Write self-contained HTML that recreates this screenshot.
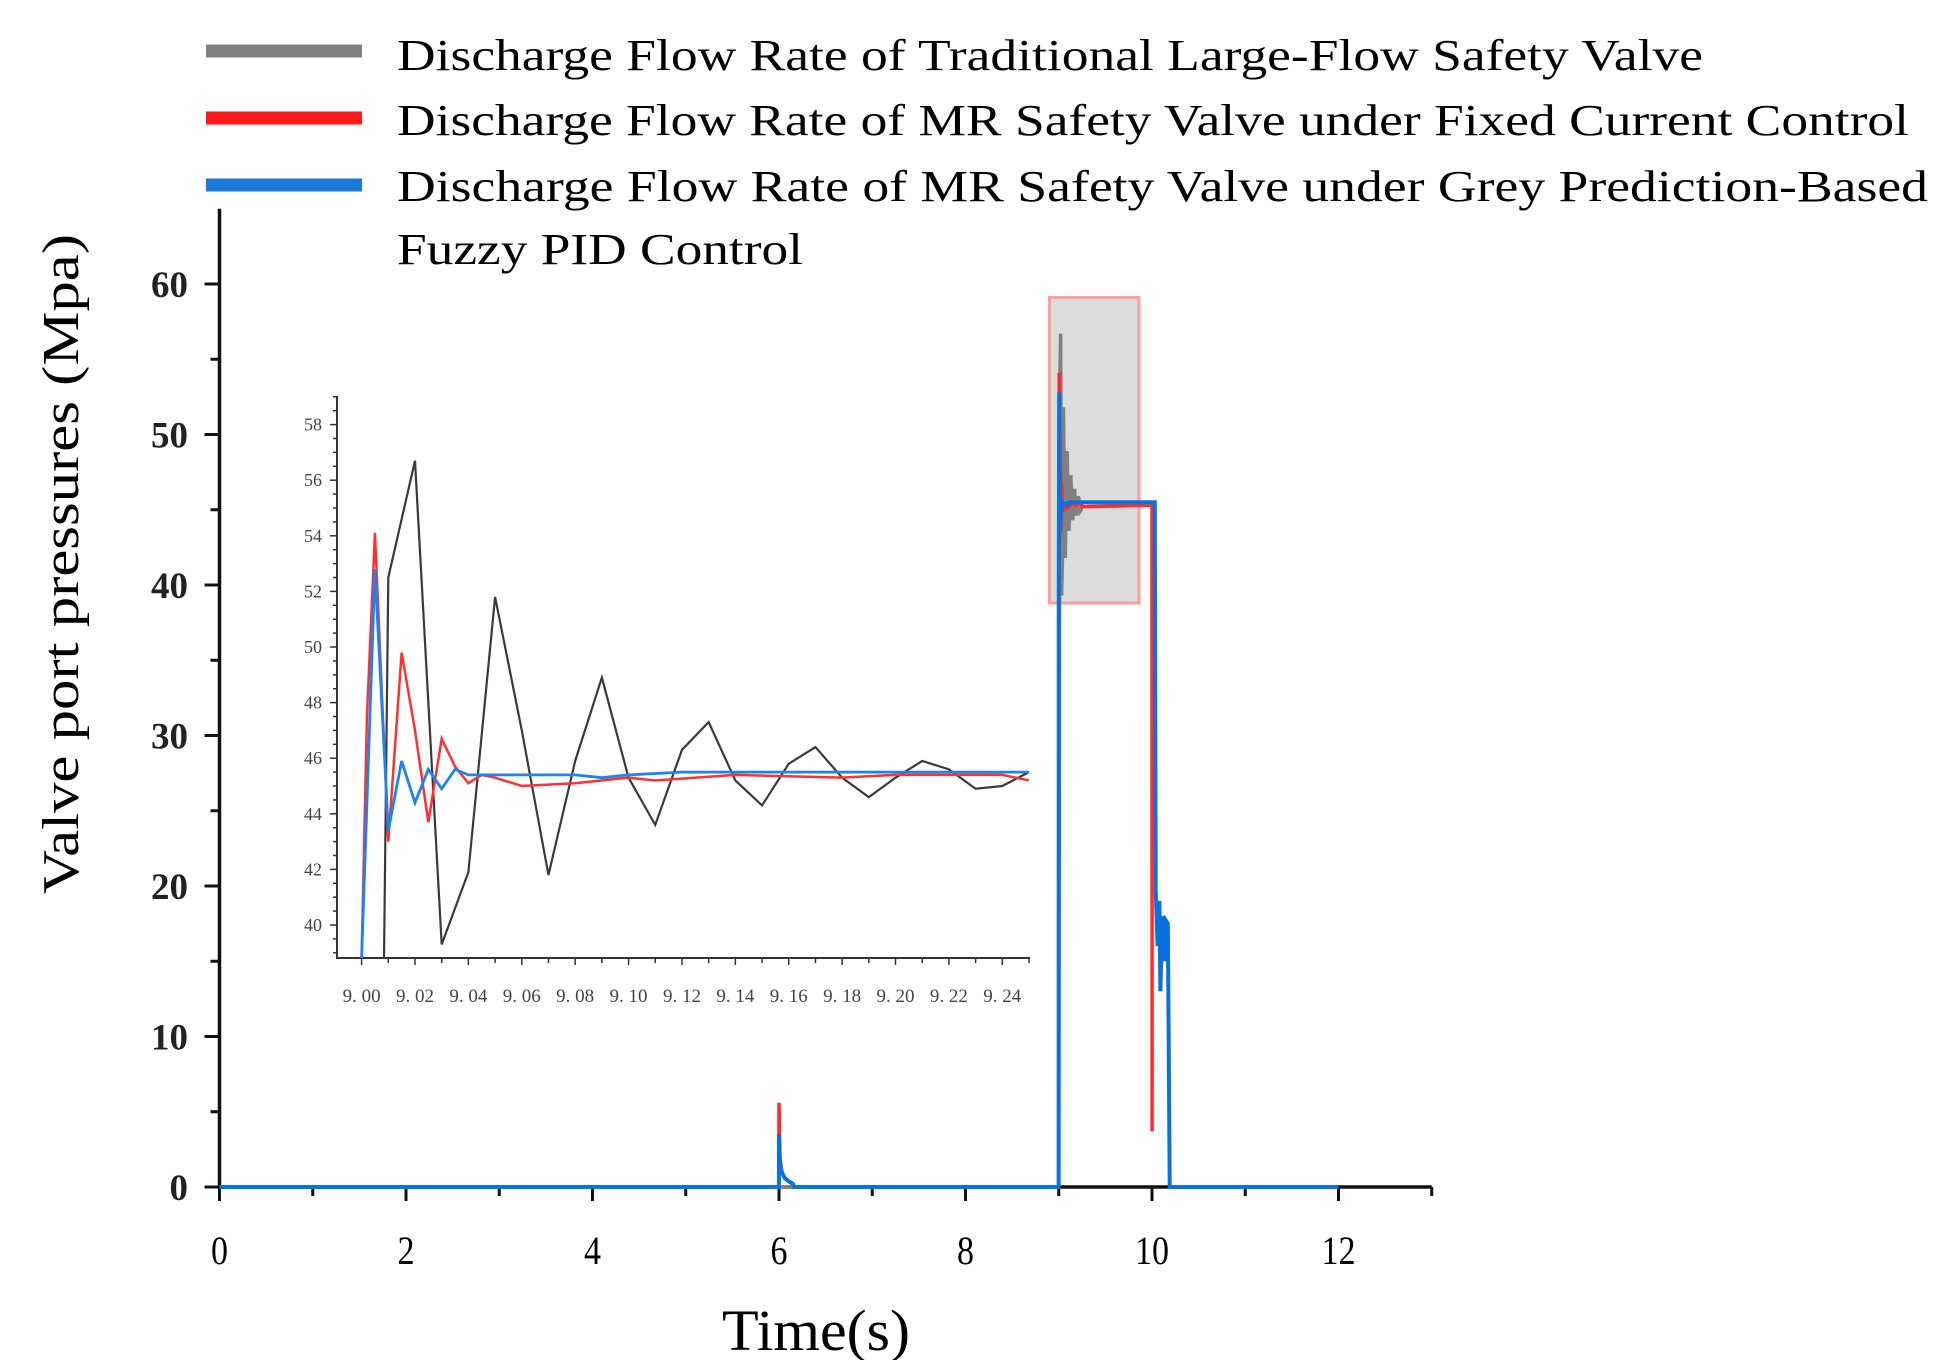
<!DOCTYPE html>
<html><head><meta charset="utf-8"><style>
html,body{margin:0;padding:0;background:#fff;}
svg{display:block;font-family:"Liberation Serif",serif;}
</style></head><body>
<svg id="chart" width="1949" height="1360" viewBox="0 0 1949 1360" xmlns="http://www.w3.org/2000/svg">
<defs><clipPath id="insetClip"><rect x="337" y="380" width="694" height="578"/></clipPath></defs>
<g id="legend">
  <g>
    <line x1="206" y1="51" x2="362" y2="51" stroke="#808080" stroke-width="13"/>
    <text x="397" y="70" font-size="44" textLength="1306" lengthAdjust="spacingAndGlyphs">Discharge Flow Rate of Traditional Large-Flow Safety Valve</text>
  </g>
  <g>
    <line x1="206" y1="118" x2="362" y2="118" stroke="#ff1a1a" stroke-width="13"/>
    <text x="397" y="135" font-size="44" textLength="1512" lengthAdjust="spacingAndGlyphs">Discharge Flow Rate of MR Safety Valve under Fixed Current Control</text>
  </g>
  <g>
    <line x1="206" y1="185" x2="362" y2="185" stroke="#1a78d8" stroke-width="13"/>
    <text x="397" y="201" font-size="44" textLength="1531" lengthAdjust="spacingAndGlyphs">Discharge Flow Rate of MR Safety Valve under Grey Prediction-Based</text>
    <text x="397" y="264" font-size="44" textLength="406" lengthAdjust="spacingAndGlyphs">Fuzzy PID Control</text>
  </g>
</g>
<text transform="translate(78,564) rotate(-90)" text-anchor="middle" font-size="52" textLength="660" lengthAdjust="spacingAndGlyphs">Valve port pressures (Mpa)</text>
<text x="816" y="1350" text-anchor="middle" font-size="58" textLength="188" lengthAdjust="spacingAndGlyphs">Time(s)</text>
<g id="main"></g>
<g id="inset"></g>
</svg>
<script>
// ---- main chart data ----
const xTicks = [0,2,4,6,8,10,12];
const yTicks = [0,10,20,30,40,50,60];
const insetXTicks = ["9. 00","9. 02","9. 04","9. 06","9. 08","9. 10","9. 12","9. 14","9. 16","9. 18","9. 20","9. 22","9. 24"];
const insetXTickValues = [9.00,9.02,9.04,9.06,9.08,9.10,9.12,9.14,9.16,9.18,9.20,9.22,9.24];
const insetYTicks = [40,42,44,46,48,50,52,54,56,58];
// inset (zoomed) series
const blackT = [9.0084,9.01,9.02,9.03,9.04,9.05,9.06,9.07,9.08,9.09,9.10,9.11,9.12,9.13,9.14,9.15,9.16,9.17,9.18,9.19,9.20,9.21,9.22,9.23,9.24,9.25];
const blackV = [38.8,52.5,56.7,39.3,41.9,51.8,47.0,41.8,45.9,48.9,45.3,43.6,46.3,47.3,45.2,44.3,45.8,46.4,45.3,44.6,45.3,45.9,45.6,44.9,45.0,45.5];
const redT = [9.0,9.002,9.005,9.01,9.015,9.02,9.025,9.03,9.035,9.04,9.045,9.05,9.06,9.08,9.10,9.11,9.14,9.18,9.20,9.24,9.25];
const redV = [38.8,47.5,54.1,43.0,49.8,47.0,43.7,46.7,45.7,45.1,45.4,45.3,45.0,45.1,45.3,45.2,45.4,45.3,45.4,45.4,45.2];
const blueT = [9.0,9.005,9.01,9.015,9.02,9.025,9.03,9.035,9.04,9.08,9.09,9.10,9.12,9.25];
const blueV = [38.8,52.8,43.4,45.9,44.4,45.6,44.9,45.6,45.4,45.4,45.3,45.4,45.5,45.5];
// main-scale extra segments
const grayPreT = [0,9.0], grayPreV = [0,0];
const grayPostT = [9.9], grayPostV = [45.4];
const redPreT = [0,5.999,6.0,6.01,6.03,6.06,6.1,6.15,6.16,8.999];
const redPreV = [0,0,5.6,2.0,1.0,0.6,0.4,0.2,0,0];
const redPostT = [10.0,10.001];
const redPostV = [45.3,3.7];
const bluePreT = [0,5.999,6.0,6.01,6.03,6.06,6.1,6.15,6.16,8.999];
const bluePreV = [0,0,3.5,1.5,1.0,0.6,0.4,0.2,0,0];
const bluePostT = [10.03,10.04,10.06,10.08,10.09,10.11,10.13,10.15,10.17,10.19,12.0];
const bluePostV = [45.5,19.7,16.0,19.0,13.0,18.0,15.0,17.7,17.5,0,0];

const NS="http://www.w3.org/2000/svg";
function mk(tag, parent, attrs){const e=document.createElementNS(NS,tag);for(const k in attrs)e.setAttribute(k,attrs[k]);parent.appendChild(e);return e;}
// main axes
const mx = t => 219.5 + t*93.25;
const my = v => 1187 - v*15.05;
const main = document.getElementById('main');
const xAxis = mk('line', main, {x1:mx(0),y1:my(0),x2:mx(13),y2:my(0),stroke:'#111','stroke-width':3.5});


const yAxis = mk('line', main, {x1:mx(0),y1:my(0)+2,x2:mx(0),y2:my(65),stroke:'#111','stroke-width':3.5});


for(let i=0;i<=13;i++){const major=i%2===0;mk('line',main,{x1:mx(i),y1:my(0),x2:mx(i),y2:my(0)+(major?14:9),stroke:'#111','stroke-width':3});}
xTicks.forEach(t=>{const tx=mk('text',main,{x:mx(t),y:1264,'text-anchor':'middle','font-size':40,transform:'translate('+mx(t)+',0) scale(0.85,1) translate('+(-mx(t))+',0)'});tx.textContent=t;

});
for(let v=0;v<=60;v+=5){const major=v%10===0;mk('line',main,{x1:mx(0)-(major?15:9),y1:my(v),x2:mx(0),y2:my(v),stroke:'#111','stroke-width':3});}
yTicks.forEach(v=>{const tx=mk('text',main,{x:188,y:my(v)+13,'text-anchor':'end','font-size':37,'font-weight':'bold',fill:'#222'});tx.textContent=v;

});
// highlight box
const box = mk('rect', main, {x:mx(8.9),y:my(59.1),width:mx(9.86)-mx(8.9),height:my(38.8)-my(59.1),fill:'#dcdcdc',stroke:'#ff9c9c','stroke-width':3});


function pts(T,V,fx,fy){return T.map((t,i)=>fx(t).toFixed(2)+','+fy(V[i]).toFixed(2)).join(' ');}
const gT=grayPreT.concat(blackT,grayPostT), gV=grayPreV.concat(blackV,grayPostV);
const gl=mk('polyline',main,{points:pts(gT,gV,mx,my),fill:'none',stroke:'#808080','stroke-width':3.5,'stroke-linejoin':'miter'});


const rT=redPreT.concat(redT,redPostT), rV=redPreV.concat(redV,redPostV);
const rl=mk('polyline',main,{points:pts(rT,rV,mx,my),fill:'none',stroke:'#ff2a2a','stroke-width':3.5});


const bT=bluePreT.concat(blueT,bluePostT), bV=bluePreV.concat(blueV,bluePostV);
const bl=mk('polyline',main,{points:pts(bT,bV,mx,my),fill:'none',stroke:'#0a72dc','stroke-width':4});



// inset
const ix = t => 361.6 + (t-9.0)*2669.6;
const iy = v => 925 - (v-40)*27.8;
const inset = document.getElementById('inset');


const ixa = mk('line',inset,{x1:336,y1:958,x2:1030,y2:958,stroke:'#333','stroke-width':2});


const iya = mk('line',inset,{x1:337,y1:959,x2:337,y2:396,stroke:'#333','stroke-width':2});


for(let k=0;k<=25;k++){const t=9+k*0.01;const major=k%2===0;mk('line',inset,{x1:ix(t),y1:958,x2:ix(t),y2:958+(major?7:5),stroke:'#333','stroke-width':1.5});}
insetXTickValues.forEach((t,i)=>{const tx=mk('text',inset,{x:ix(t),y:1002,'text-anchor':'middle','font-size':19,fill:'#444'});tx.textContent=insetXTicks[i];

});
for(let v=39;v<=59;v+=0.5){const major=Math.abs(v%2)<1e-6;mk('line',inset,{x1:337-(major?7:4),y1:iy(v),x2:337,y2:iy(v),stroke:'#333','stroke-width':1.5});}
insetYTicks.forEach(v=>{const tx=mk('text',inset,{x:322,y:iy(v)+6,'text-anchor':'end','font-size':18,fill:'#444'});tx.textContent=v;

});
const ig = mk('g',inset,{'clip-path':'url(#insetClip)'});
const ib=mk('polyline',ig,{points:pts(blackT,blackV,ix,iy),fill:'none',stroke:'#3a3a3a','stroke-width':2.2});


const ir=mk('polyline',ig,{points:pts(redT,redV,ix,iy),fill:'none',stroke:'#ff3030','stroke-width':2.5});


const ibl=mk('polyline',ig,{points:pts(blueT,blueV,ix,iy),fill:'none',stroke:'#1a84f0','stroke-width':2.8});


</script>
</body></html>
